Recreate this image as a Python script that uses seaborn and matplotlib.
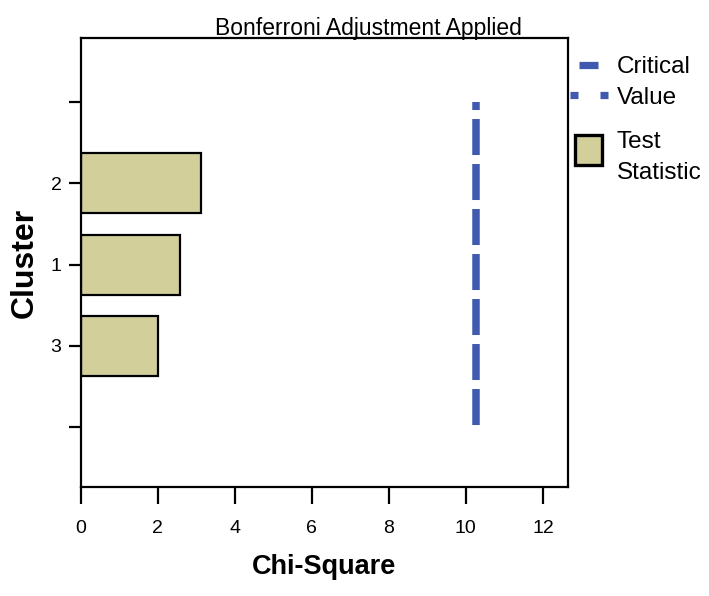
import pandas as pd
import matplotlib
matplotlib.use("Agg")
import matplotlib.pyplot as plt
import seaborn as sns
from matplotlib.lines import Line2D
from matplotlib.patches import Patch, Rectangle
from matplotlib.legend_handler import HandlerBase

# data
clusters = ["2", "1", "3"]
chi_square = [3.12, 2.58, 2.0]
critical_value = 10.26
order = ["top", "2", "1", "3", "bottom"]
tick_labels = ["", "2", "1", "3", ""]

bar_color = "#D3CF9B"
line_color = "#3F5AAF"

df = pd.DataFrame({"Cluster": clusters, "Chi-Square": chi_square})

sns.set_style("white")
plt.rcParams["font.family"] = ["Liberation Sans", "DejaVu Sans"]
plt.rcParams["text.color"] = "black"
plt.rcParams["axes.labelcolor"] = "black"
plt.rcParams["xtick.color"] = "black"
plt.rcParams["ytick.color"] = "black"

fig = plt.figure(figsize=(7.09, 5.96), dpi=100)
ax = fig.add_axes([0.114, 0.183, 0.687, 0.753])

sns.barplot(data=df, x="Chi-Square", y="Cluster", order=order, orient="h",
            color=bar_color, edgecolor="black", linewidth=1.6, width=0.74,
            saturation=1, ax=ax)

# critical value line across the category span
ax.plot([critical_value, critical_value], [0, len(order) - 1], color=line_color,
        linewidth=5.4, linestyle=(3.73, (4.8, 1.2)), dash_capstyle="butt")

ax.set_xlim(0, 12.65)
ax.set_ylim(len(order) - 1 + 0.74, -0.79)
ax.set_xticks(range(0, 13, 2))
ax.set_yticks(range(len(order)))
ax.set_yticklabels(tick_labels)

for s in ax.spines.values():
    s.set_visible(True)
    s.set_color("black")
    s.set_linewidth(1.6)

ax.tick_params(axis="x", bottom=True, length=12, width=1.6, labelsize=14, pad=12)
ax.tick_params(axis="y", left=True, length=9, width=1.6, labelsize=14, pad=5)

ax.set_title("Bonferroni Adjustment Applied", fontsize=16.5, pad=2, x=0.59)
ax.set_xlabel("Chi-Square", fontsize=19.5, fontweight="bold", labelpad=12)
ax.set_ylabel("Cluster", fontsize=23, fontweight="bold", labelpad=8)


class CriticalHandler(HandlerBase):
    # long dash on the first text line, two squares on the second
    def create_artists(self, legend, orig_handle, x0, y0, width, height, fontsize, trans):
        yc = y0 + height / 2
        kw = dict(color=line_color, linewidth=5.2, solid_capstyle="butt", transform=trans)
        top = Line2D([x0 + 0.24 * width, x0 + 0.74 * width], [yc + 5] * 2, **kw)
        b1 = Line2D([x0, x0 + 0.2 * width], [yc - 16.5] * 2, **kw)
        b2 = Line2D([x0 + 0.78 * width, x0 + width], [yc - 16.5] * 2, **kw)
        return [top, b1, b2]


class BoxHandler(HandlerBase):
    def create_artists(self, legend, orig_handle, x0, y0, width, height, fontsize, trans):
        r = Rectangle((x0 + 0.13 * width, y0 - 3), 0.72 * width, height + 2.5,
                      facecolor=bar_color, edgecolor="black", linewidth=2.4, transform=trans)
        return [r]


handles = [
    Line2D([0], [0], color=line_color),
    Patch(facecolor=bar_color, edgecolor="black"),
]
leg = fig.legend(handles, ["Critical\nValue", "Test\nStatistic"], loc="upper left",
                 bbox_to_anchor=(570 / 709, 1 - 56 / 596), frameon=False, fontsize=17.5,
                 handler_map={Line2D: CriticalHandler(), Patch: BoxHandler()},
                 handlelength=1.56, handleheight=1.3, handletextpad=0.36,
                 labelspacing=0.93, borderpad=0, borderaxespad=0)
for t in leg.get_texts():
    t.set_linespacing(1.5)

fig.savefig("out.png", dpi=100)
